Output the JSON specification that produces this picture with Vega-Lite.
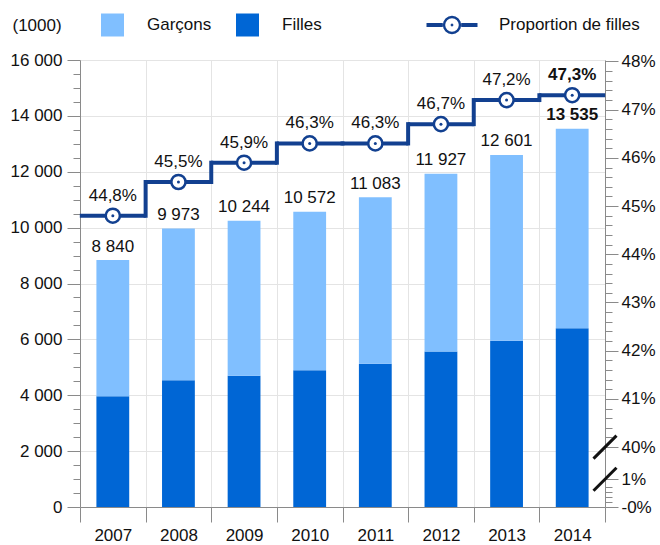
{
  "$schema": "https://vega.github.io/schema/vega-lite/v6.json",
  "width": 525,
  "height": 447,
  "autosize": {"type": "none"},
  "padding": {"left": 80, "top": 60, "right": 55, "bottom": 38},
  "background": "white",
  "datasets": {
    "segments": [
      {"year": 2007, "sexe": "Filles", "n": 3960},
      {"year": 2007, "sexe": "Garçons", "n": 4880},
      {"year": 2008, "sexe": "Filles", "n": 4538},
      {"year": 2008, "sexe": "Garçons", "n": 5435},
      {"year": 2009, "sexe": "Filles", "n": 4702},
      {"year": 2009, "sexe": "Garçons", "n": 5542},
      {"year": 2010, "sexe": "Filles", "n": 4895},
      {"year": 2010, "sexe": "Garçons", "n": 5677},
      {"year": 2011, "sexe": "Filles", "n": 5131},
      {"year": 2011, "sexe": "Garçons", "n": 5952},
      {"year": 2012, "sexe": "Filles", "n": 5570},
      {"year": 2012, "sexe": "Garçons", "n": 6357},
      {"year": 2013, "sexe": "Filles", "n": 5948},
      {"year": 2013, "sexe": "Garçons", "n": 6653},
      {"year": 2014, "sexe": "Filles", "n": 6402},
      {"year": 2014, "sexe": "Garçons", "n": 7133}
    ],
    "years": [
      {"year": 2007, "total": 8840, "prop": 0.448},
      {"year": 2008, "total": 9973, "prop": 0.455},
      {"year": 2009, "total": 10244, "prop": 0.459},
      {"year": 2010, "total": 10572, "prop": 0.463},
      {"year": 2011, "total": 11083, "prop": 0.463},
      {"year": 2012, "total": 11927, "prop": 0.467},
      {"year": 2013, "total": 12601, "prop": 0.472},
      {"year": 2014, "total": 13535, "prop": 0.473}
    ],
    "breaks": [
      {"v": 0.40},
      {"v": 0.39332}
    ]
  },
  "config": {
    "font": "Liberation Sans",
    "view": {"stroke": null},
    "locale": {"number": {"decimal": ",", "thousands": " ", "grouping": [3], "currency": ["", " €"]}},
    "axis": {
      "labelFont": "Liberation Sans",
      "labelFontSize": 17,
      "labelColor": "#111111",
      "domainColor": "#8a8a8a",
      "tickColor": "#8a8a8a",
      "gridColor": "#e4e4e4",
      "labelOverlap": false
    },
    "legend": {
      "labelFont": "Liberation Sans",
      "labelFontSize": 17,
      "labelColor": "#111111",
      "padding": 0
    }
  },
  "resolve": {"scale": {"y": "independent", "color": "independent"}, "axis": {"y": "independent"}},
  "layer": [
    {
      "data": {"name": "segments"},
      "mark": {"type": "bar", "width": {"band": 0.5}},
      "encoding": {
        "x": {
          "field": "year", "type": "ordinal",
          "scale": {"paddingInner": 0, "paddingOuter": 0},
          "axis": {"title": null, "labelAngle": 0, "tickBand": "extent", "grid": true, "tickSize": 15, "labelPadding": 5}
        },
        "y": {
          "field": "n", "type": "quantitative", "stack": "zero",
          "scale": {"domain": [0, 16000], "nice": false},
          "axis": {
            "orient": "left",
            "values": [0, 2000, 4000, 6000, 8000, 10000, 12000, 14000, 16000],
            "format": ",d",
            "grid": true,
            "tickSize": 13,
            "labelPadding": 5,
            "title": "(1000)",
            "titleAngle": 0,
            "titleAlign": "left",
            "titleBaseline": "middle",
            "titleX": -68,
            "titleY": -35,
            "titleFontSize": 17,
            "titleFontWeight": "normal",
            "titleColor": "#111111"
          }
        },
        "color": {
          "field": "sexe", "type": "nominal",
          "scale": {"domain": ["Garçons", "Filles"], "range": ["#80bfff", "#0066d5"]},
          "legend": {
            "orient": "none",
            "legendX": 21,
            "legendY": -46.5,
            "direction": "horizontal",
            "title": null,
            "symbolType": "square",
            "symbolSize": 529,
            "symbolStrokeWidth": 0,
            "labelOffset": 23,
            "columnPadding": 24
          }
        },
        "order": {"field": "sexe", "sort": "ascending"}
      }
    },
    {
      "data": {"name": "years"},
      "transform": [{"filter": "datum.year != 2014"}],
      "mark": {"type": "text", "fontSize": 17, "baseline": "alphabetic", "dy": -8.5, "color": "#111111"},
      "encoding": {
        "x": {"field": "year", "type": "ordinal", "title": null},
        "y": {
          "field": "total", "type": "quantitative",
          "scale": {"domain": [0, 16000], "nice": false},
          "axis": {
            "orient": "left",
            "values": [500, 1000, 1500, 2500, 3000, 3500, 4500, 5000, 5500, 6500, 7000, 7500, 8500, 9000, 9500, 10500, 11000, 11500, 12500, 13000, 13500, 14500, 15000, 15500],
            "labels": false, "domain": false, "grid": false, "tickSize": 7, "title": null
          }
        },
        "text": {"field": "total", "type": "quantitative", "format": ",d"}
      }
    },
    {
      "data": {"name": "years"},
      "transform": [{"filter": "datum.year == 2014"}],
      "mark": {"type": "text", "fontSize": 17, "fontWeight": "bold", "baseline": "alphabetic", "dy": -8.5, "color": "#111111"},
      "encoding": {
        "x": {"field": "year", "type": "ordinal", "title": null},
        "y": {"field": "total", "type": "quantitative", "scale": {"domain": [0, 16000], "nice": false}, "axis": null},
        "text": {"field": "total", "type": "quantitative", "format": ",d"}
      }
    },
    {
      "data": {"name": "years"},
      "mark": {"type": "tick", "orient": "horizontal", "thickness": 4, "size": 66, "color": "#124090", "opacity": 1},
      "encoding": {
        "x": {"field": "year", "type": "ordinal", "title": null},
        "y": {
          "field": "prop", "type": "quantitative",
          "scale": {"domain": [0.38757, 0.48031], "nice": false, "zero": false},
          "axis": {
            "orient": "right",
            "values": [0.38757, 0.39332, 0.40, 0.41, 0.42, 0.43, 0.44, 0.45, 0.46, 0.47, 0.48],
            "labelExpr": "datum.value < 0.39 ? '-0%' : datum.value < 0.399 ? '1%' : format(datum.value, '.0%')",
            "tickSize": 13,
            "labelPadding": 3,
            "grid": false,
            "title": null
          }
        }
      }
    },
    {
      "data": {"name": "years"},
      "transform": [
        {"window": [{"op": "lag", "field": "prop", "as": "prev"}], "sort": [{"field": "year", "order": "ascending"}]},
        {"filter": "datum.prev != null"}
      ],
      "mark": {"type": "rule", "strokeWidth": 4, "strokeCap": "square", "color": "#124090"},
      "encoding": {
        "x": {"field": "year", "type": "ordinal", "bandPosition": 0, "title": null},
        "y": {
          "field": "prev", "type": "quantitative",
          "scale": {"domain": [0.38757, 0.48031], "nice": false, "zero": false},
          "axis": {
            "orient": "right",
            "values": [0.38867, 0.3897, 0.39074, 0.39178, 0.402, 0.404, 0.406, 0.408, 0.412, 0.414, 0.416, 0.418, 0.422, 0.424, 0.426, 0.428, 0.432, 0.434, 0.436, 0.438, 0.442, 0.444, 0.446, 0.448, 0.452, 0.454, 0.456, 0.458, 0.462, 0.464, 0.466, 0.468, 0.472, 0.474, 0.476, 0.478],
            "labels": false, "domain": false, "grid": false, "tickSize": 7, "title": null
          }
        },
        "y2": {"field": "prop"}
      }
    },
    {
      "data": {"name": "years"},
      "mark": {"type": "point", "filled": true, "fill": "white", "stroke": "#124090", "strokeWidth": 2.5, "size": 200, "opacity": 1},
      "encoding": {
        "x": {"field": "year", "type": "ordinal", "title": null},
        "y": {"field": "prop", "type": "quantitative", "scale": {"domain": [0.38757, 0.48031], "nice": false, "zero": false}, "axis": null}
      }
    },
    {
      "data": {"name": "years"},
      "mark": {"type": "point", "filled": true, "color": "#124090", "size": 9, "opacity": 1},
      "encoding": {
        "x": {"field": "year", "type": "ordinal", "title": null},
        "y": {"field": "prop", "type": "quantitative", "scale": {"domain": [0.38757, 0.48031], "nice": false, "zero": false}, "axis": null}
      }
    },
    {
      "data": {"name": "years"},
      "transform": [{"filter": "datum.year < 0"}],
      "mark": {
        "type": "point",
        "filled": true,
        "opacity": 1,
        "strokeWidth": 0,
        "shape": "M-2.55,-0.2L-0.92,-0.2L-0.92,0.2L-2.55,0.2Z M0.92,-0.2L2.55,-0.2L2.55,0.2L0.92,0.2Z M0.92,0L0.85,0.352L0.651,0.651L0.352,0.85L0,0.92L-0.352,0.85L-0.651,0.651L-0.85,0.352L-0.92,0L-0.85,-0.352L-0.651,-0.651L-0.352,-0.85L0,-0.92L0.352,-0.85L0.651,-0.651L0.85,-0.352Z M0.68,0L0.628,-0.26L0.481,-0.481L0.26,-0.628L0,-0.68L-0.26,-0.628L-0.481,-0.481L-0.628,-0.26L-0.68,0L-0.628,0.26L-0.481,0.481L-0.26,0.628L0,0.68L0.26,0.628L0.481,0.481L0.628,0.26Z M0.17,0L0,0.17L-0.17,0L0,-0.17Z"
      },
      "encoding": {
        "x": {"field": "year", "type": "ordinal", "title": null},
        "y": {"field": "prop", "type": "quantitative", "scale": {"domain": [0.38757, 0.48031], "nice": false, "zero": false}, "axis": null},
        "color": {
          "datum": "Proportion de filles", "type": "nominal",
          "scale": {"domain": ["Proportion de filles"], "range": ["#124090"]},
          "legend": {
            "orient": "none",
            "legendX": 362,
            "legendY": -45,
            "title": null,
            "symbolSize": 400,
            "symbolStrokeWidth": 0,
            "symbolOpacity": 1,
            "labelOffset": 37
          }
        }
      }
    },
    {
      "data": {"name": "years"},
      "transform": [{"filter": "datum.year != 2014"}],
      "mark": {"type": "text", "fontSize": 17, "baseline": "alphabetic", "dy": -15, "color": "#111111"},
      "encoding": {
        "x": {"field": "year", "type": "ordinal", "title": null},
        "y": {"field": "prop", "type": "quantitative", "scale": {"domain": [0.38757, 0.48031], "nice": false, "zero": false}, "axis": null},
        "text": {"field": "prop", "type": "quantitative", "format": ".1%"}
      }
    },
    {
      "data": {"name": "years"},
      "transform": [{"filter": "datum.year == 2014"}],
      "mark": {"type": "text", "fontSize": 17, "fontWeight": "bold", "baseline": "alphabetic", "dy": -15, "color": "#111111"},
      "encoding": {
        "x": {"field": "year", "type": "ordinal", "title": null},
        "y": {"field": "prop", "type": "quantitative", "scale": {"domain": [0.38757, 0.48031], "nice": false, "zero": false}, "axis": null},
        "text": {"field": "prop", "type": "quantitative", "format": ".1%"}
      }
    },
    {
      "data": {"name": "breaks"},
      "mark": {"type": "point", "shape": "M-1,1L1,-1", "filled": false, "stroke": "#111111", "strokeWidth": 3, "size": 529, "opacity": 1},
      "encoding": {
        "x": {"datum": 2014, "type": "ordinal", "bandPosition": 1},
        "y": {"field": "v", "type": "quantitative", "scale": {"domain": [0.38757, 0.48031], "nice": false, "zero": false}, "axis": null}
      }
    }
  ]
}
